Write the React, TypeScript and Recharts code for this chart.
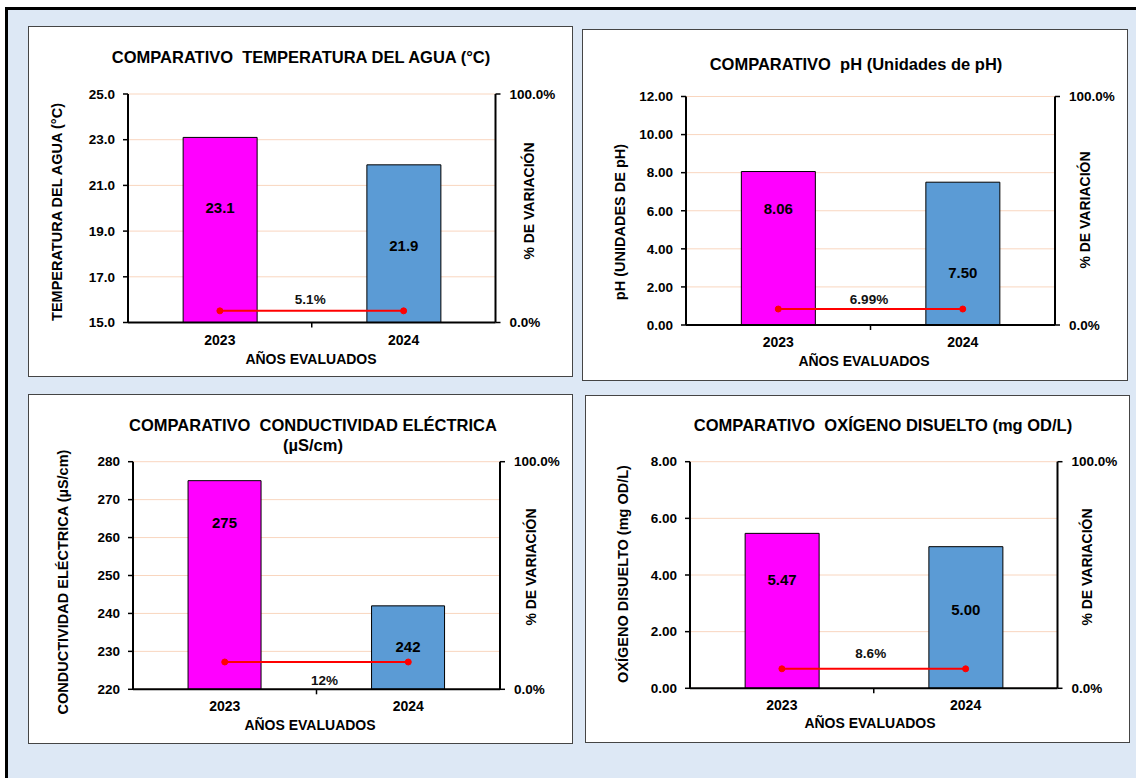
import React from 'react';
import {
  ComposedChart,
  Bar,
  Line,
  XAxis,
  YAxis,
  CartesianGrid,
  LabelList,
  Cell,
} from 'recharts';

// ---- data -------------------------------------------------------------
const YEARS = ['2023', '2024'];

const TEMP_VALUES = [23.1, 21.9];
const TEMP_VARIATION = 5.1; // % de variación
const TEMP_TICKS = [15, 17, 19, 21, 23, 25];

const PH_VALUES = [8.06, 7.5];
const PH_VARIATION = 6.99;
const PH_TICKS = [0, 2, 4, 6, 8, 10, 12];

const CE_VALUES = [275, 242];
const CE_VARIATION = 12;
const CE_TICKS = [220, 230, 240, 250, 260, 270, 280];

const OD_VALUES = [5.47, 5.0];
const OD_VARIATION = 8.6;
const OD_TICKS = [0, 2, 4, 6, 8];

const PCT_TICKS = [0, 100];

const X_TITLE = 'AÑOS EVALUADOS';
const RIGHT_TITLE = '% DE VARIACIÓN';

// ---- styling ----------------------------------------------------------
const FONT = '"Liberation Sans", Arial, Helvetica, sans-serif';
const BAR_COLORS = ['#ff00ff', '#5b9bd5'];
const GRID_COLOR = '#f9d6bf';
const LINE_COLOR = '#ff0000';
const PAGE_BG = '#dde8f5';

type Pt = { x: number; y: number };
type Panel = {
  title: string[];
  titleAt: Pt[];
  yTitle: string;
  yTitleAt: Pt;
  rightTitleAt: Pt;
  xTitleAt: Pt;
  values: number[];
  ticks: number[];
  decimals: number;
  variation: number;
  variationDecimals: number;
  box: { left: number; top: number; width: number; height: number };
  plot: { left: number; right: number; top: number; bottom: number };
  valueLabelDy: number[];
  variationShift: { dx: number; dy: number };
};

const PANELS: Panel[] = [
  {
    title: ['COMPARATIVO  TEMPERATURA DEL AGUA (°C)'],
    titleAt: [{ x: 301, y: 57 }],
    yTitle: 'TEMPERATURA DEL AGUA (°C)',
    yTitleAt: { x: 57, y: 212 },
    rightTitleAt: { x: 529, y: 201 },
    xTitleAt: { x: 311, y: 359 },
    values: TEMP_VALUES,
    ticks: TEMP_TICKS,
    decimals: 1,
    variation: TEMP_VARIATION,
    variationDecimals: 1,
    box: { left: 28, top: 26, width: 545, height: 351 },
    plot: { left: 128, right: 495.5, top: 94, bottom: 322.5 },
    valueLabelDy: [70, 81],
    variationShift: { dx: -1.5, dy: -11 },
  },
  {
    title: ['COMPARATIVO  pH (Unidades de pH)'],
    titleAt: [{ x: 856, y: 64 }],
    yTitle: 'pH (UNIDADES DE pH)',
    yTitleAt: { x: 620, y: 222 },
    rightTitleAt: { x: 1085, y: 210 },
    xTitleAt: { x: 864, y: 361 },
    values: PH_VALUES,
    ticks: PH_TICKS,
    decimals: 2,
    variation: PH_VARIATION,
    variationDecimals: 2,
    box: { left: 582, top: 29, width: 546, height: 352 },
    plot: { left: 686, right: 1055, top: 96.5, bottom: 325 },
    valueLabelDy: [36.5, 90],
    variationShift: { dx: -1.5, dy: -10 },
  },
  {
    title: ['COMPARATIVO  CONDUCTIVIDAD ELÉCTRICA', '(µS/cm)'],
    titleAt: [
      { x: 313, y: 425 },
      { x: 313, y: 445 },
    ],
    yTitle: 'CONDUCTIVIDAD ELÉCTRICA (µS/cm)',
    yTitleAt: { x: 63, y: 582 },
    rightTitleAt: { x: 531, y: 567 },
    xTitleAt: { x: 310, y: 725 },
    values: CE_VALUES,
    ticks: CE_TICKS,
    decimals: 0,
    variation: CE_VARIATION,
    variationDecimals: 0,
    box: { left: 28, top: 394, width: 545, height: 350 },
    plot: { left: 133, right: 500, top: 461.7, bottom: 689.3 },
    valueLabelDy: [42, 41],
    variationShift: { dx: 8, dy: 18.5 },
  },
  {
    title: ['COMPARATIVO  OXÍGENO DISUELTO (mg OD/L)'],
    titleAt: [{ x: 883, y: 425 }],
    yTitle: 'OXÍGENO DISUELTO (mg OD/L)',
    yTitleAt: { x: 623, y: 574 },
    rightTitleAt: { x: 1087, y: 567 },
    xTitleAt: { x: 870, y: 723 },
    values: OD_VALUES,
    ticks: OD_TICKS,
    decimals: 2,
    variation: OD_VARIATION,
    variationDecimals: 1,
    box: { left: 585, top: 395, width: 545, height: 348 },
    plot: { left: 690, right: 1057.5, top: 461.7, bottom: 688.3 },
    valueLabelDy: [45.7, 63],
    variationShift: { dx: -3, dy: -15 },
  },
];

// ---- text helpers -----------------------------------------------------
function PageText({
  at,
  text,
  size,
  rotate,
}: {
  at: Pt;
  text: string;
  size: number;
  rotate?: boolean;
}) {
  return (
    <div
      style={{
        position: 'absolute',
        left: at.x,
        top: at.y,
        transform: `translate(-50%, -50%)${rotate ? ' rotate(-90deg)' : ''}`,
        whiteSpace: 'pre',
        fontSize: size,
        fontWeight: 700,
        lineHeight: 1,
        color: '#000',
      }}
    >
      {text}
    </div>
  );
}

// ---- one comparison chart --------------------------------------------
function PanelChart({ p }: { p: Panel }) {
  const W = p.box.width - 2;
  const H = p.box.height - 2;
  const ox = p.box.left + 1;
  const oy = p.box.top + 1;
  const YW = 60;
  const RW = 70;
  const XH = 30;
  const margin = {
    top: p.plot.top - oy,
    bottom: oy + H - p.plot.bottom - XH,
    left: p.plot.left - ox - YW,
    right: ox + W - p.plot.right - RW,
  };
  const halfBand = (p.plot.right - p.plot.left) / 4;
  const axisY = p.plot.bottom - oy;
  const midX = (p.plot.left + p.plot.right) / 2 - ox;

  const rows = YEARS.map((year, i) => ({
    year,
    value: p.values[i],
    variation: p.variation,
  }));

  const renderXTick = (props: any) => {
    const { x, index, payload } = props;
    return (
      <g>
        <text
          x={x}
          y={axisY + 17}
          textAnchor="middle"
          dominantBaseline="central"
          fontSize={14}
          fontWeight={700}
          fill="#000"
        >
          {payload.value}
        </text>
        {index === 0 && (
          <line
            x1={x + halfBand}
            x2={x + halfBand}
            y1={axisY}
            y2={axisY + 5}
            stroke="#000"
            strokeWidth={1.5}
          />
        )}
      </g>
    );
  };

  const renderValueLabel = (props: any) => {
    const vb = props.viewBox ?? {};
    const x = props.x ?? vb.x;
    const y = props.y ?? vb.y;
    const w = props.width ?? vb.width ?? 0;
    const cx = Number(x) + Number(w) / 2;
    const i = cx < midX ? 0 : 1;
    return (
      <text
        x={cx}
        y={Number(y) + p.valueLabelDy[i]}
        textAnchor="middle"
        dominantBaseline="central"
        fontSize={15}
        fontWeight={700}
        fill="#000"
      >
        {Number(props.value).toFixed(p.decimals)}
      </text>
    );
  };

  const renderVariationLabel = (props: any) => {
    const vb = props.viewBox ?? {};
    const x = Number(props.x ?? vb.x);
    const y = Number(props.y ?? vb.y);
    if (x > midX) return null;
    return (
      <text
        x={x + halfBand + p.variationShift.dx}
        y={y + p.variationShift.dy}
        textAnchor="middle"
        dominantBaseline="central"
        fontSize={13.5}
        fontWeight={700}
        fill="#111"
      >
        {`${Number(props.value).toFixed(p.variationDecimals)}%`}
      </text>
    );
  };

  const tickStyle = { fill: '#000', fontSize: 13.5, fontWeight: 700 };
  const axisStyle = { stroke: '#000', strokeWidth: 2 };
  const tickLineStyle = { stroke: '#000', strokeWidth: 1.5 };

  return (
    <div
      style={{
        position: 'absolute',
        left: p.box.left,
        top: p.box.top,
        width: p.box.width,
        height: p.box.height,
        boxSizing: 'border-box',
        border: '1px solid #454545',
        background: '#fff',
      }}
    >
      <ComposedChart
        width={W}
        height={H}
        data={rows}
        margin={margin}
        barCategoryGap="30%"
      >
        <CartesianGrid vertical={false} stroke={GRID_COLOR} strokeWidth={1} />
        <XAxis
          dataKey="year"
          height={XH}
          interval={0}
          tickLine={false}
          axisLine={axisStyle}
          tick={renderXTick}
        />
        <YAxis
          width={YW}
          domain={[p.ticks[0], p.ticks[p.ticks.length - 1]]}
          ticks={p.ticks}
          interval={0}
          tickFormatter={(v: number) => v.toFixed(p.decimals)}
          tick={tickStyle}
          tickSize={5}
          tickMargin={8}
          tickLine={tickLineStyle}
          axisLine={axisStyle}
        />
        <YAxis
          yAxisId="right"
          orientation="right"
          width={RW}
          domain={[PCT_TICKS[0], PCT_TICKS[1]]}
          ticks={PCT_TICKS}
          interval={0}
          tickFormatter={(v: number) => `${v.toFixed(1)}%`}
          tick={tickStyle}
          tickSize={5}
          tickMargin={9}
          tickLine={tickLineStyle}
          axisLine={axisStyle}
        />
        <Bar
          dataKey="value"
          stroke="#000"
          strokeWidth={1}
          isAnimationActive={false}
        >
          {rows.map((r, i) => (
            <Cell key={r.year} fill={BAR_COLORS[i]} />
          ))}
          <LabelList dataKey="value" content={renderValueLabel} />
        </Bar>
        <Line
          yAxisId="right"
          dataKey="variation"
          stroke={LINE_COLOR}
          strokeWidth={2}
          dot={{ r: 3, fill: LINE_COLOR, stroke: LINE_COLOR, strokeWidth: 1 }}
          isAnimationActive={false}
        >
          <LabelList dataKey="variation" content={renderVariationLabel} />
        </Line>
      </ComposedChart>
    </div>
  );
}

export default function App() {
  return (
    <div
      style={{
        position: 'absolute',
        left: 0,
        top: 0,
        width: 1136,
        height: 778,
        overflow: 'hidden',
        background: '#fff',
        fontFamily: FONT,
      }}
    >
      <div
        style={{
          position: 'absolute',
          left: 5,
          top: 7,
          width: 1200,
          height: 900,
          background: PAGE_BG,
          borderTop: '3px solid #000',
          borderLeft: '3px solid #000',
        }}
      />
      {PANELS.map((p, k) => (
        <PanelChart key={k} p={p} />
      ))}
      {PANELS.map((p, k) => (
        <React.Fragment key={`t${k}`}>
          {p.title.map((line, j) => (
            <PageText key={j} at={p.titleAt[j]} text={line} size={16.5} />
          ))}
          <PageText at={p.yTitleAt} text={p.yTitle} size={14.5} rotate />
          <PageText at={p.rightTitleAt} text={RIGHT_TITLE} size={14} rotate />
          <PageText at={p.xTitleAt} text={X_TITLE} size={14} />
        </React.Fragment>
      ))}
    </div>
  );
}
